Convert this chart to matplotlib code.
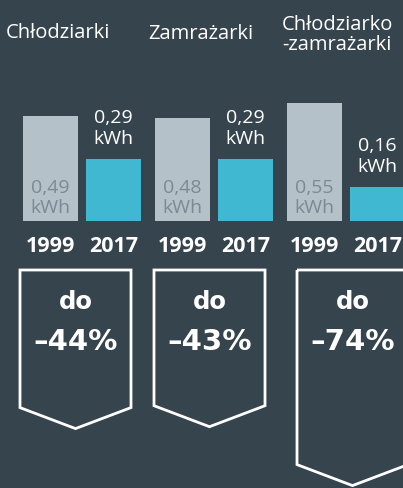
import matplotlib
matplotlib.use("Agg")
import matplotlib.pyplot as plt
from matplotlib.patches import Polygon

# Energy use per appliance type, 1999 vs 2017 (kWh)
categories = ["Chłodziarki", "Zamrażarki", "Chłodziarko\n-zamrażarki"]
years = ["1999", "2017"]
values_1999 = [0.49, 0.48, 0.55]
values_2017 = [0.29, 0.29, 0.16]
reductions = [44, 43, 74]

BG = "#36444e"
GREY_BAR = "#b5c1c8"
CYAN_BAR = "#41b8d2"
GREY_TEXT = "#7b8a94"
WHITE = "#ffffff"

plt.rcParams["font.family"] = ["Open Sans", "DejaVu Sans"]

W, H = 403, 488
fig = plt.figure(figsize=(W / 100, H / 100), dpi=100)
fig.patch.set_facecolor(BG)

# bar axes: x in pixels, y in kWh; baseline sits 221 px from the top
base_px = 221
px_per_kwh = 215
ax = fig.add_axes([0, (H - base_px) / H, 1, base_px / H])
ax.set_xlim(0, W)
ax.set_ylim(0, base_px / px_per_kwh)
ax.axis("off")
ax.patch.set_alpha(0)

group_x = [82, 214, 346]
bar_w = 55
offset = 31.5

def fmt(v):
    return f"{v:.2f}".replace(".", ",") + "\nkWh"

x_old = [g - offset for g in group_x]
x_new = [g + offset for g in group_x]
ax.bar(x_old, values_1999, width=bar_w, color=GREY_BAR)
ax.bar(x_new, values_2017, width=bar_w, color=CYAN_BAR)

for x, v in zip(x_old, values_1999):
    ax.annotate(fmt(v), (x, 0), xytext=(0, 16.5), textcoords="offset points",
                ha="center", va="center", fontsize=14, color=GREY_TEXT,
                linespacing=1.2)
for x, v in zip(x_new, values_2017):
    ax.annotate(fmt(v), (x, v), xytext=(0, 10.5), textcoords="offset points",
                ha="center", va="baseline", fontsize=14, color=WHITE,
                linespacing=1.2)

# overlay in pixel coordinates for titles, years and callouts
ov = fig.add_axes([0, 0, 1, 1])
ov.set_xlim(0, W)
ov.set_ylim(H, 0)
ov.axis("off")
ov.patch.set_alpha(0)

title_x = [58, 201, 337]
title_y = [38, 39, 50]
for cat, tx, ty in zip(categories, title_x, title_y):
    ov.text(tx, ty, cat, ha="center", va="baseline", fontsize=14.5,
            color=WHITE, linespacing=1.0)

for xo, xn in zip(x_old, x_new):
    ov.text(xo, 247, years[0], ha="center", va="center", fontsize=15.5,
            fontweight="bold", color=WHITE)
    ov.text(xn, 247, years[1], ha="center", va="center", fontsize=15.5,
            fontweight="bold", color=WHITE)

# downward callouts, length grows with the reduction
box_left = [20, 154, 297]
box_w = 111
box_top = 270
tip_h = 21
for left, pct in zip(box_left, reductions):
    side = box_top + 75 + 1.9 * pct - tip_h
    pts = [(left, box_top), (left + box_w, box_top), (left + box_w, side),
           (left + box_w / 2, side + tip_h), (left, side)]
    ov.add_patch(Polygon(pts, closed=True, fill=False, edgecolor=WHITE,
                         linewidth=2, joinstyle="miter"))
    cx = left + box_w / 2
    ov.text(cx, 302, "do", ha="center", va="center", fontsize=17.5,
            fontweight="bold", color=WHITE, family="DejaVu Sans")
    ov.text(cx, 342, f"\u2013{pct}%", ha="center", va="center", fontsize=21,
            fontweight="bold", color=WHITE, family="DejaVu Sans")

fig.savefig("out.png", dpi=100, facecolor=BG)
